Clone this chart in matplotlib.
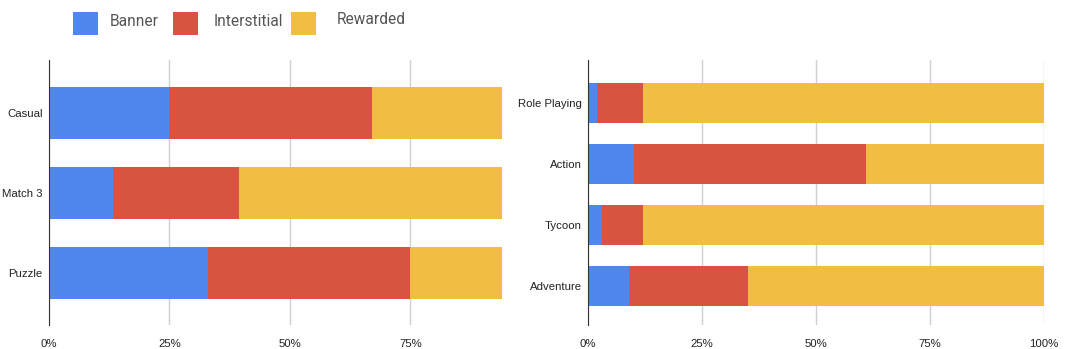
import matplotlib
matplotlib.use("Agg")
import matplotlib.pyplot as plt
from matplotlib.patches import Rectangle
from matplotlib.ticker import PercentFormatter

plt.rcParams['font.family'] = ['Roboto', 'DejaVu Sans']

# data (shares of revenue per format)
left_genres = ["Casual", "Match 3", "Puzzle"]
left_banner = [0.25, 0.133, 0.33]
left_inter = [0.42, 0.261, 0.42]
left_reward = [0.33, 0.606, 0.25]

right_genres = ["Role Playing", "Action", "Tycoon", "Adventure"]
right_banner = [0.02, 0.10, 0.03, 0.09]
right_inter = [0.10, 0.51, 0.09, 0.26]
right_reward = [0.88, 0.39, 0.88, 0.65]

formats = ["Banner", "Interstitial", "Rewarded"]
colors = ["#5087ec", "#d95343", "#f1bd43"]

left_ticks = [0, 0.25, 0.5, 0.75]
right_ticks = [0, 0.25, 0.5, 0.75, 1.0]

W, H = 1071, 349
fig = plt.figure(figsize=(W / 100, H / 100), dpi=100)
ax1 = fig.add_axes([49 / W, 24 / H, 453 / W, 265 / H])
ax2 = fig.add_axes([588 / W, 24 / H, 456 / W, 265 / H])

tick_font = ['Liberation Sans', 'DejaVu Sans']


def draw(ax, genres, banner, inter, reward, ticks, xmax, height, ylim):
    ys = list(range(len(genres)))
    left = [0] * len(genres)
    for vals, c in zip([banner, inter, reward], colors):
        ax.barh(ys, vals, left=left, height=height, color=c, zorder=2)
        left = [a + b for a, b in zip(left, vals)]
    ax.set_xlim(0, xmax)
    ax.set_ylim(*ylim)
    ax.set_yticks(ys)
    ax.set_yticklabels(genres, fontsize=8.2, color="#222222", family=tick_font)
    ax.set_xticks(ticks)
    ax.xaxis.set_major_formatter(PercentFormatter(1.0, decimals=0))
    for lab in ax.get_xticklabels():
        lab.set_fontsize(8.2)
        lab.set_color("#222222")
        lab.set_family(tick_font)
    ax.tick_params(axis='y', length=0, pad=4.5)
    ax.tick_params(axis='x', length=0, pad=10)
    ax.grid(axis='x', color="#d0d0d0", lw=1, zorder=0)
    for s in ["top", "right", "bottom"]:
        ax.spines[s].set_visible(False)
    ax.spines["left"].set_color("#333333")
    ax.spines["left"].set_zorder(3)


draw(ax1, left_genres, left_banner, left_inter, left_reward,
     left_ticks, 0.94, 0.65, (2.65, -0.66))
draw(ax2, right_genres, right_banner, right_inter, right_reward,
     right_ticks, 1.0, 0.655, (3.64, -0.70))

# legend along the top, laid out like the original
sq_x = [73, 173, 291]
txt_x = [110, 214, 337]
txt_y = [22, 22, 20]
for name, c, sx, tx, ty in zip(formats, colors, sq_x, txt_x, txt_y):
    fig.patches.append(Rectangle((sx / W, 1 - 35 / H), 25 / W, 23 / H,
                                 transform=fig.transFigure, facecolor=c,
                                 edgecolor="none"))
    fig.text(tx / W, 1 - ty / H, name, fontsize=11.2, color="#555555",
             va="center", ha="left")

fig.savefig("out.png", dpi=100)
